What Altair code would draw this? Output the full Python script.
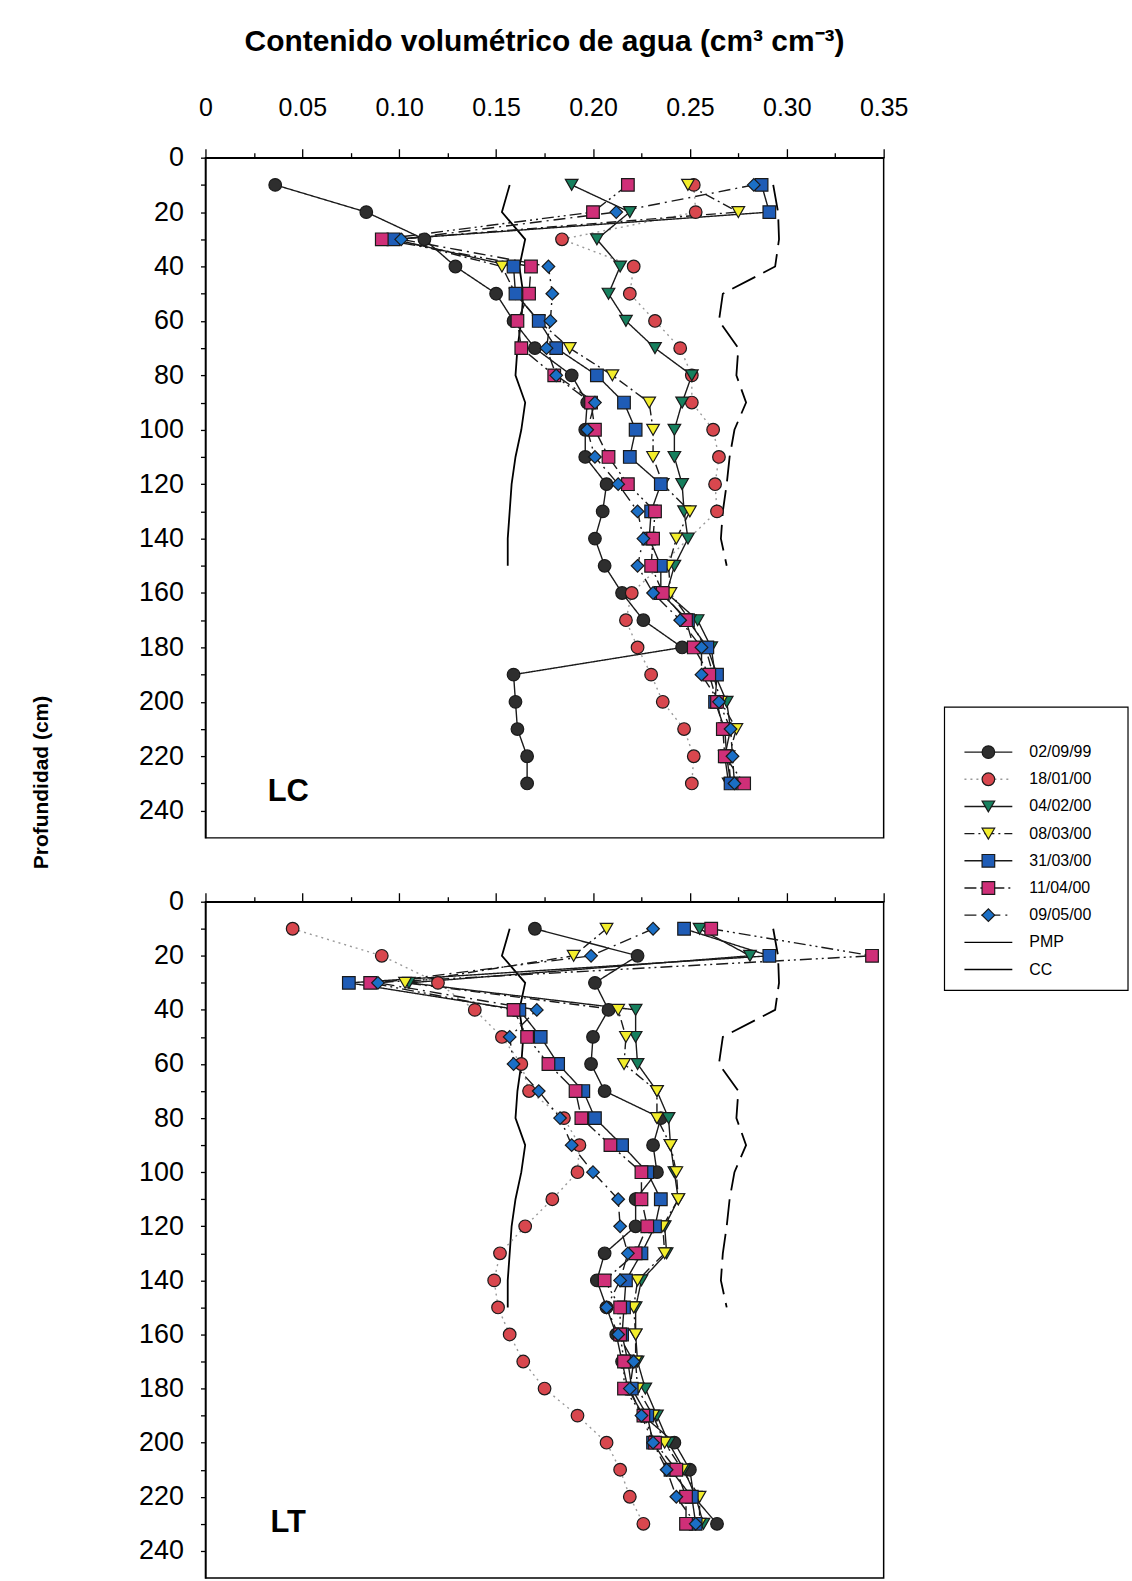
import altair as alt
import pandas as pd

FONT = "Liberation Sans"

# Soil depths (cm) of every profile reading
depths = [10, 20, 30, 40, 50, 60, 70, 80, 90, 100, 110, 120,
          130, 140, 150, 160, 170, 180, 190, 200, 210, 220, 230]

series_names = ["02/09/99", "18/01/00", "04/02/00", "08/03/00",
                "31/03/00", "11/04/00", "09/05/00"]

# Volumetric water content, plot LC
lc_020999 = [0.036, 0.083, 0.113, 0.129, 0.150, 0.159, 0.170, 0.189, 0.197, 0.196, 0.196, 0.207,
             0.205, 0.201, 0.206, 0.215, 0.226, 0.246, 0.159, 0.160, 0.161, 0.166, 0.166]
lc_180100 = [0.252, 0.253, 0.184, 0.221, 0.219, 0.232, 0.245, 0.251, 0.251, 0.262, 0.265, 0.263,
             0.264, None, None, 0.220, 0.217, 0.223, 0.230, 0.236, 0.247, 0.252, 0.251]
lc_040200 = [0.189, 0.219, 0.202, 0.214, 0.208, 0.217, 0.232, 0.251, 0.246, 0.242, 0.242, 0.246,
             0.247, 0.249, 0.242, 0.238, 0.254, 0.261, 0.263, 0.269, 0.271, 0.268, 0.270]
lc_080300 = [0.249, 0.275, 0.098, 0.153, 0.160, 0.172, 0.188, 0.210, 0.229, 0.231, 0.231, 0.236,
             0.250, 0.243, 0.239, 0.240, 0.250, 0.258, 0.262, 0.266, 0.274, 0.270, 0.271]
lc_310300 = [0.287, 0.291, 0.097, 0.159, 0.160, 0.172, 0.181, 0.202, 0.216, 0.222, 0.219, 0.235,
             0.230, 0.229, 0.235, 0.235, 0.249, 0.259, 0.264, 0.263, 0.268, 0.269, 0.271]
lc_110400 = [0.218, 0.200, 0.091, 0.168, 0.167, 0.161, 0.163, 0.180, 0.199, 0.201, 0.208, 0.218,
             0.232, 0.231, 0.230, 0.236, 0.248, 0.252, 0.260, 0.264, 0.267, 0.268, 0.278]
lc_090500 = [0.283, 0.212, 0.101, 0.177, 0.179, 0.178, 0.176, 0.181, 0.201, 0.197, 0.201, 0.213,
             0.223, 0.226, 0.223, 0.231, 0.245, 0.256, 0.256, 0.265, 0.271, 0.272, 0.273]

# Volumetric water content, plot LT
lt_020999 = [0.170, 0.223, 0.201, 0.208, 0.200, 0.199, 0.206, 0.235, 0.231, 0.233, 0.222, 0.222,
             0.206, 0.202, 0.207, 0.212, 0.215, 0.218, 0.226, 0.242, 0.250, 0.252, 0.264]
lt_180100 = [0.045, 0.091, 0.120, 0.139, 0.153, 0.163, 0.167, 0.185, 0.193, 0.192, 0.179, 0.165,
             0.152, 0.149, 0.151, 0.157, 0.164, 0.175, 0.192, 0.207, 0.214, 0.219, 0.226]
lt_040200 = [0.255, 0.281, 0.105, 0.222, 0.222, 0.223, 0.233, 0.239, 0.240, 0.242, 0.244, 0.237,
             0.238, 0.225, 0.222, 0.222, 0.223, 0.227, 0.233, 0.239, 0.247, 0.253, 0.257]
lt_080300 = [0.207, 0.190, 0.103, 0.213, 0.217, 0.216, 0.233, 0.233, 0.240, 0.243, 0.244, 0.236,
             0.237, 0.223, 0.221, 0.222, 0.222, 0.223, 0.231, 0.237, 0.246, 0.255, 0.255]
lt_310300 = [0.247, 0.291, 0.074, 0.162, 0.173, 0.182, 0.195, 0.201, 0.215, 0.228, 0.235, 0.232,
             0.225, 0.217, 0.216, 0.215, 0.218, 0.220, 0.228, 0.231, 0.240, 0.251, 0.253]
lt_110400 = [0.261, 0.344, 0.085, 0.159, 0.166, 0.177, 0.191, 0.194, 0.209, 0.225, 0.225, 0.228,
             0.222, 0.206, 0.214, 0.214, 0.216, 0.216, 0.226, 0.232, 0.243, 0.248, 0.248]
lt_090500 = [0.231, 0.199, 0.089, 0.171, 0.157, 0.159, 0.172, 0.183, 0.189, 0.200, 0.213, 0.214,
             0.218, 0.214, 0.207, 0.213, 0.221, 0.219, 0.225, 0.231, 0.238, 0.243, 0.253]

# Wilting point (PMP) and field capacity (CC), 10-150 cm
limit_depths = [10, 20, 30, 40, 50, 60, 70, 80, 90, 100, 110, 120, 130, 140, 150]
pmp_values = [0.157, 0.153, 0.165, 0.162, 0.164, 0.163, 0.161, 0.160, 0.165, 0.163,
              0.160, 0.158, 0.157, 0.156, 0.156]
cc_values = [0.293, 0.2955, 0.296, 0.294, 0.267, 0.265, 0.275, 0.274, 0.279, 0.273,
             0.2705, 0.269, 0.267, 0.266, 0.269]

lc_values = [lc_020999, lc_180100, lc_040200, lc_080300, lc_310300, lc_110400, lc_090500]
lt_values = [lt_020999, lt_180100, lt_040200, lt_080300, lt_310300, lt_110400, lt_090500]

# Series styling
marker_fill = ["#2e2e2e", "#d8474e", "#16805e", "#f3ee2c", "#1f5cb6", "#cf2f78", "#1b6fc6"]
marker_shape = ["circle", "circle", "triangle-down", "triangle-down", "square", "square", "diamond"]
marker_size = [160, 160, 190, 190, 165, 165, 235]
line_color = ["#1a1a1a", "#9a9a9a", "#1a1a1a", "#1a1a1a", "#1a1a1a", "#1a1a1a", "#1a1a1a"]
line_dash = [[1, 0], [2, 4], [1, 0], [10, 4, 2, 4], [1, 0], [12, 4, 2, 4, 2, 4], [12, 5, 2, 5]]

legend_entries = series_names + ["PMP", "CC"]
legend_color = line_color + ["#000000", "#000000"]
legend_dash = line_dash + [[1, 0], [1, 0]]


def long_table(values):
    rows = []
    for i, name in enumerate(series_names):
        for d, v in zip(depths, values[i]):
            if v is not None:
                rows.append({"series": name, "idx": i, "depth": d, "value": v})
    return pd.DataFrame(rows).sort_values(["idx", "depth"])


x_ticks = [round(i * 0.025, 3) for i in range(15)]
y_ticks = list(range(0, 250, 10))
X_LABELS = ("round(datum.value * 1000) % 50 == 0 ? "
            "(datum.value == 0 ? '0' : format(datum.value, '.2f')) : ''")
Y_LABELS = "datum.value % 20 == 0 ? datum.value : ''"
TICK_SIZE = {"condition": {"test": "round(datum.value * 1000) % 50 == 0", "value": 9}, "value": 5}

x_scale = alt.Scale(domain=[0, 0.35], nice=False, zero=False)
y_scale = alt.Scale(domain=[0, 250], reverse=True, nice=False)

PANEL_W = 680


def marker_encodings():
    return dict(
        fill=alt.Fill("series:N", scale=alt.Scale(domain=series_names, range=marker_fill),
                      legend=None),
        shape=alt.Shape("series:N", scale=alt.Scale(domain=series_names, range=marker_shape),
                        legend=None),
        size=alt.Size("series:N", scale=alt.Scale(domain=series_names, range=marker_size),
                      legend=None),
    )


def panel(values, label, height, label_y, first):
    df = long_table(values)
    x_axis = alt.Axis(orient="top", values=x_ticks, labelExpr=X_LABELS, labels=first,
                      labelFlush=False, tickSize=TICK_SIZE, labelPadding=28,
                      labelFontSize=25, labelFont=FONT,
                      labelColor="black", tickColor="black", domainColor="black",
                      tickWidth=1.3, domainWidth=1.4, grid=False, title=None)
    y_kwargs = dict(values=y_ticks, labelExpr=Y_LABELS, tickSize=5, labelPadding=17,
                    labelFlush=False, labelFontSize=27, labelFont=FONT, labelColor="black",
                    tickColor="black", domainColor="black", tickWidth=1.3, domainWidth=1.4,
                    grid=False)
    if first:
        y_axis = alt.Axis(title="Profundidad (cm)", titleFont=FONT, titleFontSize=21,
                          titleFontWeight="bold", titleColor="black", titleAngle=270,
                          titleX=-164, titleY=626, titleAlign="center",
                          titleBaseline="middle", **y_kwargs)
    else:
        y_axis = alt.Axis(title=None, **y_kwargs)

    X = alt.X("value:Q", scale=x_scale, axis=x_axis)
    Y = alt.Y("depth:Q", scale=y_scale, axis=y_axis)

    pmp = alt.Chart(pd.DataFrame({"depth": limit_depths, "value": pmp_values})).mark_line(
        color="black", strokeWidth=1.8).encode(x=X, y=Y, order="depth:Q")
    cc = alt.Chart(pd.DataFrame({"depth": limit_depths, "value": cc_values})).mark_line(
        color="black", strokeWidth=1.8, strokeDash=[26, 9]).encode(x=X, y=Y, order="depth:Q")

    lines = alt.Chart(df).mark_line(strokeWidth=1.4).encode(
        x=X, y=Y, order="depth:Q",
        color=alt.Color("series:N", scale=alt.Scale(domain=series_names, range=line_color),
                        legend=None),
        strokeDash=alt.StrokeDash("series:N",
                                  scale=alt.Scale(domain=series_names, range=line_dash),
                                  legend=None),
    )
    points = alt.Chart(df).mark_point(filled=True, stroke="#1a1a1a", strokeWidth=1.2,
                                      opacity=1).encode(x=X, y=Y, **marker_encodings())
    tag = alt.Chart(pd.DataFrame({"t": [label]})).mark_text(
        font=FONT, fontSize=31, fontWeight="bold", color="black", align="center",
        baseline="middle").encode(x=alt.value(83), y=alt.value(label_y), text="t:N")

    data_layer = alt.layer(pmp, cc, lines, points, tag)
    if not first:
        return data_layer.properties(width=PANEL_W, height=height)

    # Legend box drawn beside the first panel
    leg_df = pd.DataFrame({"entry": legend_entries})
    LY = alt.Y("entry:N", axis=None,
               scale=alt.Scale(type="point", domain=legend_entries, range=[596, 814],
                               padding=0))
    box = alt.Chart(pd.DataFrame({"k": [0]})).mark_rect(
        fillOpacity=0, stroke="black", strokeWidth=1.2).encode(
        x=alt.value(741), x2=alt.value(925), y=alt.value(551), y2=alt.value(835))
    leg_lines = alt.Chart(leg_df).mark_rule(strokeWidth=1.4).encode(
        x=alt.value(761), x2=alt.value(809), y=LY,
        color=alt.Color("entry:N", scale=alt.Scale(domain=legend_entries, range=legend_color),
                        legend=None),
        strokeDash=alt.StrokeDash("entry:N",
                                  scale=alt.Scale(domain=legend_entries, range=legend_dash),
                                  legend=None),
    )
    leg_pts = alt.Chart(pd.DataFrame({"entry": series_names, "series": series_names})).mark_point(
        filled=True, stroke="#1a1a1a", strokeWidth=1.2, opacity=1).encode(
        x=alt.value(785), y=LY, **marker_encodings())
    leg_text = alt.Chart(leg_df).mark_text(
        font=FONT, fontSize=16, color="black", align="left", baseline="middle").encode(
        x=alt.value(826), y=LY, text="entry:N")
    legend_layer = alt.layer(box, leg_lines, leg_pts, leg_text)

    return alt.layer(data_layer, legend_layer).resolve_scale(
        y="independent", color="independent", strokeDash="independent"
    ).properties(width=PANEL_W, height=height)


top = panel(lc_values, "LC", 682, 636, True)
bottom = panel(lt_values, "LT", 678, 623, False)

chart = alt.vconcat(top, bottom, spacing=64, bounds="flush").properties(
    title=alt.TitleParams("Contenido volumétrico de agua (cm³ cm⁻³)", font=FONT, fontSize=30,
                          fontWeight="bold", color="black", anchor="middle", frame="group",
                          offset=38),
    padding={"left": 30, "top": 25, "right": 2, "bottom": 1},
    autosize=alt.AutoSizeParams(type="pad"),
    background="white",
).configure_view(stroke="black", strokeWidth=1.5)

chart.save("out.html", embed_options={"renderer": "svg", "actions": False})
